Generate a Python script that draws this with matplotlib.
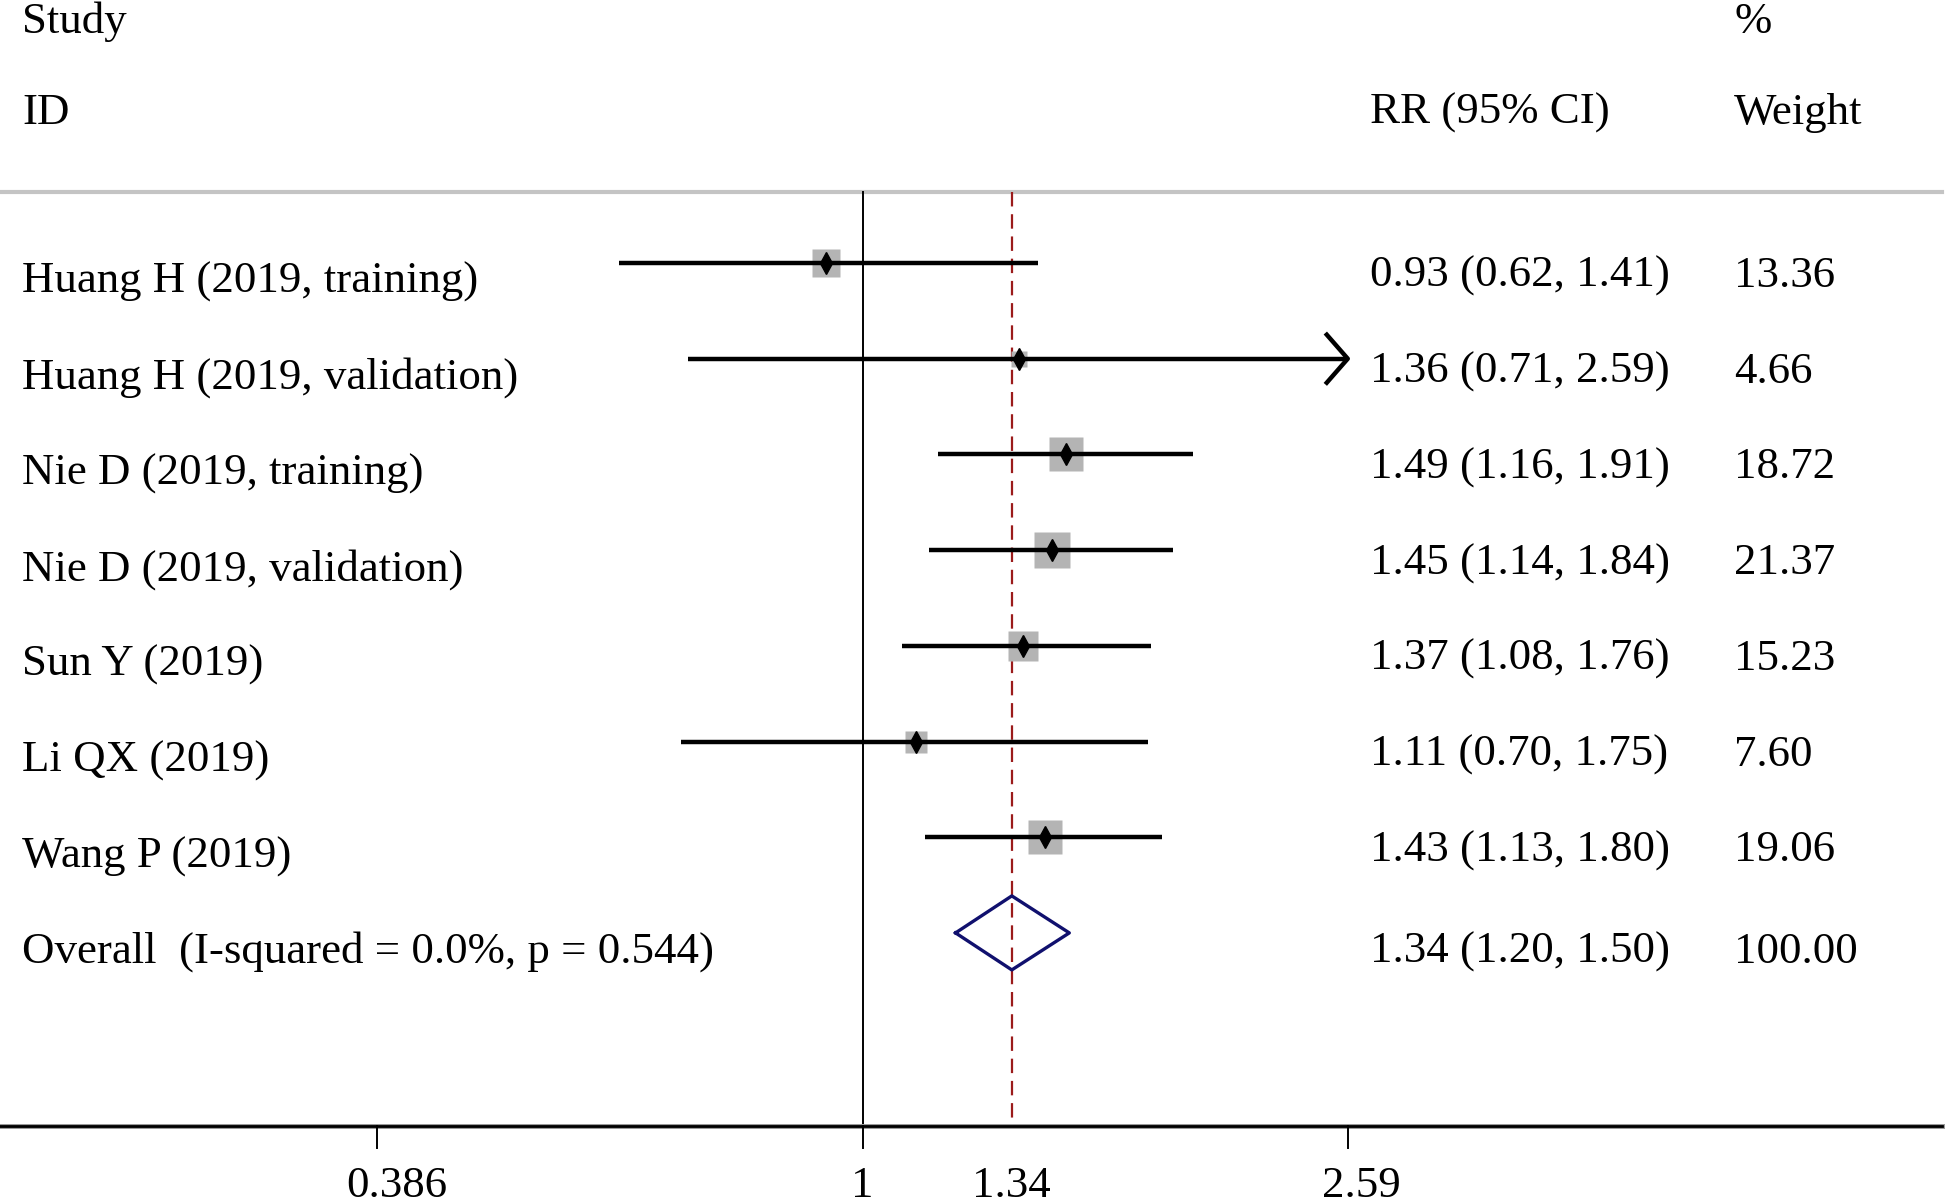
import numpy as np
import matplotlib
matplotlib.use("Agg")
import matplotlib.pyplot as plt
from matplotlib.transforms import blended_transform_factory

plt.rcParams["font.family"] = ["Liberation Serif", "DejaVu Serif"]

# data
studies = ["Huang H (2019, training)", "Huang H (2019, validation)",
           "Nie D (2019, training)", "Nie D (2019, validation)",
           "Sun Y (2019)", "Li QX (2019)", "Wang P (2019)"]
rr = [0.93, 1.36, 1.49, 1.45, 1.37, 1.11, 1.43]
ci_lo = [0.62, 0.71, 1.16, 1.14, 1.08, 0.70, 1.13]
ci_hi = [1.41, 2.59, 1.91, 1.84, 1.76, 1.75, 1.80]
weights = [13.36, 4.66, 18.72, 21.37, 15.23, 7.60, 19.06]

overall_label = "Overall  (I-squared = 0.0%, p = 0.544)"
overall = [1.34, 1.20, 1.50]
overall_weight = 100.00

tick_vals = [0.386, 1, 2.59]
tick_labels = ["0.386", "1", "2.59"]
x_cap = 2.59   # upper display limit, CI beyond gets an arrow

# layout (pixels, figure is 1946 x 1204)
W, H = 1946, 1204
row0, step = 263, 95.7
fs = 32.3

fig = plt.figure(figsize=(W / 100, H / 100), dpi=100)
ax = fig.add_axes([0, 0, 1, 1])
ax.set_xscale("log")
ax.set_xlim(0.18414, 8.374)
ax.set_ylim(H, 0)
ax.axis("off")
tr = blended_transform_factory(ax.transAxes, ax.transData)

# header
ax.text(22 / W, 33, "Study", transform=tr, fontsize=fs, va="baseline")
ax.text(22 / W, 124, "ID", transform=tr, fontsize=fs, va="baseline")
ax.text(1370 / W, 124, "RR (95% CI)", transform=tr, fontsize=fs, va="baseline")
ax.text(1734 / W, 33, "%", transform=tr, fontsize=fs, va="baseline")
ax.text(1734 / W, 124, "Weight", transform=tr, fontsize=fs, va="baseline")
ax.plot([0, 1942 / W], [192, 192], color="#c4c4c4", lw=3, transform=tr)

# reference lines
ax.plot([1, 1], [192, 1126], color="black", lw=1.4)
ax.plot([overall[0], overall[0]], [192, 1126], color="#9b1b1b", lw=1.6,
        dashes=(6.5, 3.5))

# studies
for i, name in enumerate(studies):
    y = row0 + i * step
    hi = min(ci_hi[i], x_cap)
    ax.plot([ci_lo[i], hi], [y, y], color="black", lw=3.2,
            solid_capstyle="butt", zorder=3)
    if ci_hi[i] >= x_cap:
        back = x_cap * np.exp(-21 / 509.8)
        ax.plot([back, x_cap, back], [y - 24, y, y + 24], color="black",
                lw=3.2, zorder=3)
    ax.plot(rr[i], y, marker="s", ms=5.6 * np.sqrt(weights[i]),
            color="#b4b4b4", mec="none", zorder=2)
    ax.plot(rr[i], y, marker="d", ms=11, color="black", zorder=4)
    ax.text(22 / W, y + 30, name, transform=tr, fontsize=fs, va="baseline")
    ax.text(1370 / W, y + 24, f"{rr[i]:.2f} ({ci_lo[i]:.2f}, {ci_hi[i]:.2f})",
            transform=tr, fontsize=fs, va="baseline")
    ax.text(1734 / W, y + 24, f"{weights[i]:.2f}", transform=tr,
            fontsize=fs, va="baseline")

# overall diamond
y = row0 + len(studies) * step
est, lo, hi = overall
ax.plot([lo, est, hi, est, lo], [y, y - 37, y, y + 37, y], color="#10106e",
        lw=2.4, zorder=4)
ax.text(22 / W, y + 30, overall_label, transform=tr, fontsize=fs, va="baseline")
ax.text(1370 / W, y + 30, f"{est:.2f} ({lo:.2f}, {hi:.2f})", transform=tr,
        fontsize=fs, va="baseline")
ax.text(1734 / W, y + 30, f"{overall_weight:.2f}", transform=tr,
        fontsize=fs, va="baseline")

# bottom axis
ax.plot([0, 1942 / W], [1126, 1126], color="#9a9a9a", lw=3.6, transform=tr)
ax.plot([0, 1942 / W], [1126, 1126], color="black", lw=2.0, transform=tr)
for v, lab, dx in zip(tick_vals, tick_labels, [14, 0, 10]):
    ax.plot([v, v], [1126, 1148], color="black", lw=1.4)
    ax.annotate(lab, (v, 1197), xytext=(dx, 0), textcoords="offset points",
                fontsize=fs, ha="center", va="baseline")
ax.text(est, 1197, f"{est:.2f}", fontsize=fs, ha="center", va="baseline")

fig.savefig("out.png", dpi=100)
